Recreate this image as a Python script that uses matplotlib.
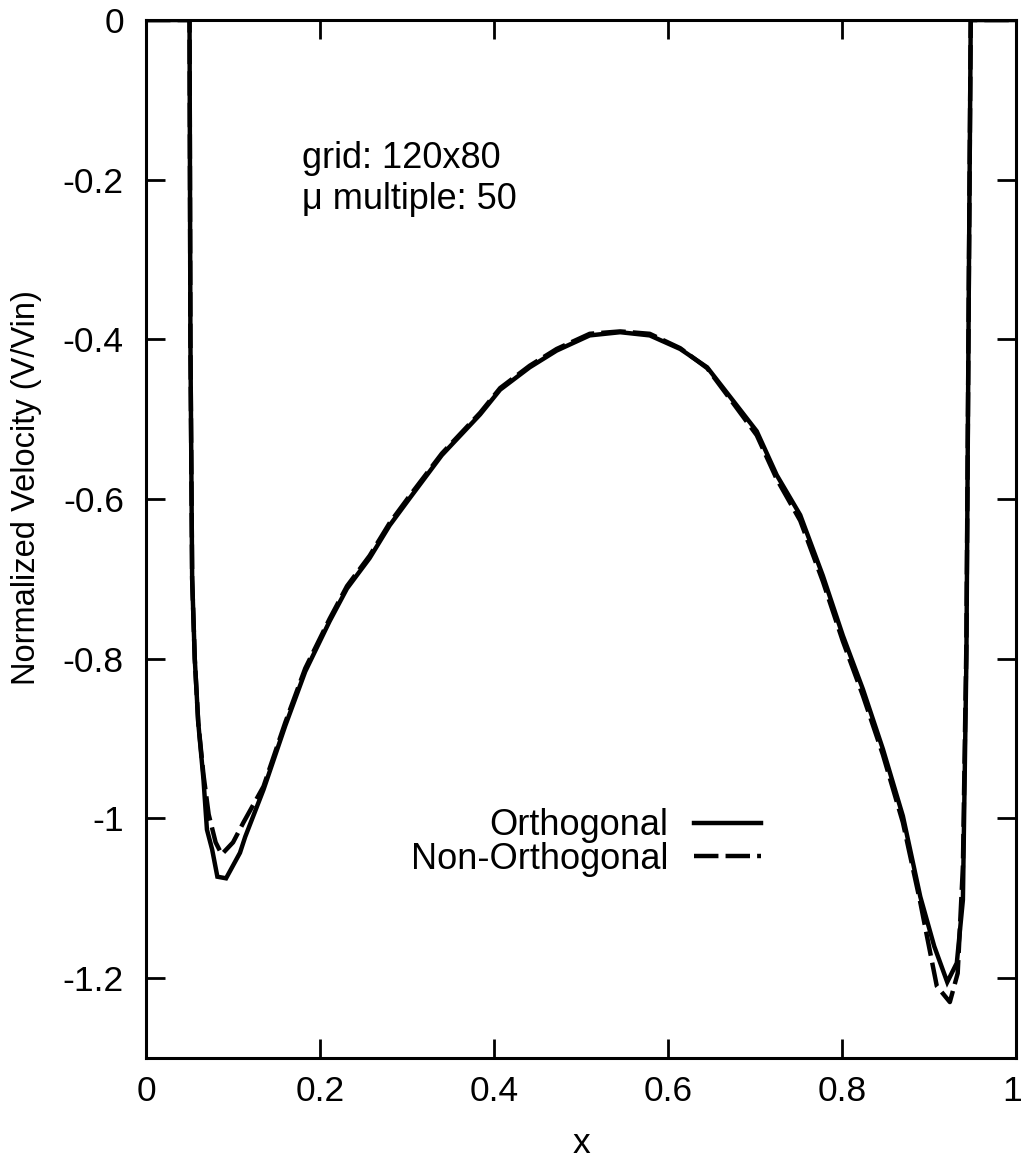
import matplotlib
matplotlib.use("Agg")
import matplotlib.pyplot as plt
from matplotlib.transforms import ScaledTranslation

plt.rcParams['font.family'] = ['Liberation Sans', 'DejaVu Sans']

# Vertical velocity profile across the channel (solid: orthogonal grid)
x_orth = [0.0, 0.05, 0.051, 0.053, 0.056, 0.060, 0.066, 0.070, 0.076, 0.082,
          0.092, 0.108, 0.114, 0.135, 0.160, 0.183, 0.211, 0.231, 0.257,
          0.280, 0.303, 0.340, 0.384, 0.407, 0.441, 0.472, 0.510, 0.545,
          0.579, 0.614, 0.645, 0.675, 0.702, 0.725, 0.752, 0.778, 0.801,
          0.824, 0.847, 0.870, 0.890, 0.906, 0.921, 0.932, 0.939, 0.943,
          0.946, 0.948, 1.0]
v_orth = [0.0, 0.0, -0.40, -0.70, -0.80, -0.88, -0.951, -1.014, -1.039, -1.073,
          -1.075, -1.043, -1.023, -0.964, -0.884, -0.816, -0.753, -0.712, -0.674,
          -0.633, -0.599, -0.545, -0.494, -0.463, -0.435, -0.414, -0.395, -0.391,
          -0.395, -0.412, -0.435, -0.477, -0.515, -0.570, -0.620, -0.696, -0.771,
          -0.838, -0.913, -0.997, -1.098, -1.160, -1.205, -1.181, -1.102, -0.80,
          -0.30, 0.0, 0.0]

# Same profile on the non-orthogonal grid (dashed)
x_north = [0.0, 0.05, 0.051, 0.053, 0.056, 0.060, 0.066, 0.072, 0.080, 0.087,
           0.100, 0.112, 0.135, 0.160, 0.183, 0.211, 0.231, 0.257, 0.280,
           0.303, 0.340, 0.384, 0.407, 0.441, 0.472, 0.510, 0.545, 0.579,
           0.614, 0.645, 0.675, 0.702, 0.725, 0.752, 0.778, 0.801, 0.824,
           0.847, 0.870, 0.890, 0.909, 0.924, 0.933, 0.939, 0.943, 0.946,
           0.948, 1.0]
v_north = [0.0, 0.0, -0.40, -0.70, -0.80, -0.88, -0.945, -0.995, -1.030, -1.045,
           -1.030, -1.005, -0.960, -0.880, -0.812, -0.750, -0.709, -0.671, -0.630,
           -0.596, -0.543, -0.492, -0.461, -0.433, -0.412, -0.393, -0.390, -0.393,
           -0.411, -0.436, -0.480, -0.520, -0.575, -0.627, -0.703, -0.778, -0.846,
           -0.920, -1.005, -1.105, -1.210, -1.230, -1.194, -1.060, -0.78,
           -0.30, 0.0, 0.0]

x_ticks = [0, 0.2, 0.4, 0.6, 0.8, 1]
x_tick_labels = ["0", "0.2", "0.4", "0.6", "0.8", "1"]
y_ticks = [0, -0.2, -0.4, -0.6, -0.8, -1, -1.2]
y_tick_labels = ["0", "-0.2", "-0.4", "-0.6", "-0.8", "-1", "-1.2"]

fig = plt.figure(figsize=(10.22, 11.58), dpi=100)
ax = fig.add_axes([0.1429, 0.0864, 0.8512, 0.8963])

ax.plot(x_orth, v_orth, color="black", lw=3.2, solid_joinstyle="miter",
        label="Orthogonal")
ax.plot(x_north, v_north, color="black", lw=3.2, dashes=(5.5, 1.6),
        label="Non-Orthogonal")

ax.set_xlim(0, 1)
ax.set_ylim(-1.3, 0)
ax.set_xticks(x_ticks)
ax.set_xticklabels(x_tick_labels)
ax.set_yticks(y_ticks)
ax.set_yticklabels(y_tick_labels)
ax.tick_params(direction="in", length=14, width=2, labelsize=25.5,
               top=True, right=True)
ax.tick_params(axis="x", pad=12)
ax.tick_params(axis="y", pad=16)
for s in ax.spines.values():
    s.set_linewidth(2.2)

# nudge the last x tick label so it stays inside the canvas
last = ax.get_xticklabels()[-1]
last.set_transform(last.get_transform() +
                   ScaledTranslation(-4 / 100, 0, fig.dpi_scale_trans))

ax.set_xlabel("x", fontsize=25.5, labelpad=14)
ax.set_ylabel("Normalized Velocity (V/Vin)", fontsize=23.5, va="center")
ax.yaxis.set_label_coords(-0.137, 0.55)

ax.text(0.179, 0.857, "grid: 120x80", transform=ax.transAxes, fontsize=26,
        va="baseline")
ax.text(0.179, 0.818, "\u03bc multiple: 50", transform=ax.transAxes,
        fontsize=26, va="baseline")

fs_leg = 26
em = fs_leg * 100 / 72
leg = ax.legend(loc="upper right",
                bbox_to_anchor=((775 - 146) / 870, (1058 - 794) / 1038),
                borderaxespad=0, frameon=False, fontsize=fs_leg,
                markerfirst=False, handlelength=67 / em,
                handletextpad=25 / em, labelspacing=-0.04,
                alignment="right")
for t in leg.get_texts():
    t.set_ha("right")

fig.savefig("out.png", dpi=100)
